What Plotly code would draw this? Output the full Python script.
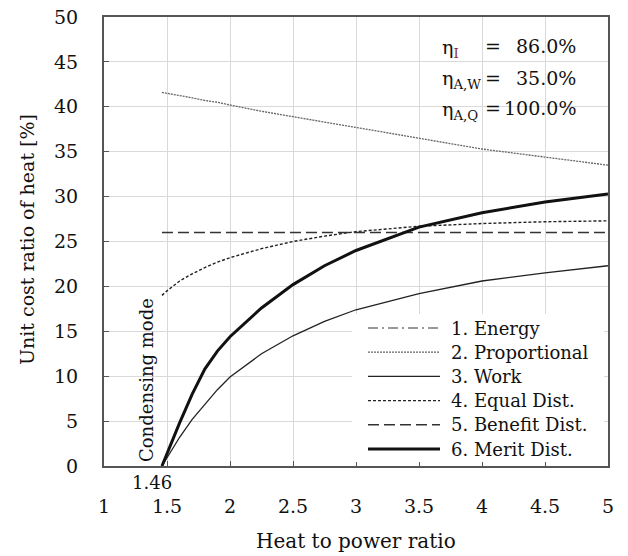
import plotly.graph_objects as go

# ---------------- data ----------------
x_vals = [1.46, 1.5, 1.6, 1.7, 1.8, 1.9, 2.0, 2.25, 2.5, 2.75, 3.0, 3.5, 4.0, 4.5, 5.0]
energy = [100.0] * len(x_vals)  # lies above the plotted range
proportional = [41.6, 41.5, 41.3, 41.0, 40.7, 40.5, 40.2, 39.5, 38.9, 38.3, 37.7, 36.5, 35.3, 34.4, 33.5]
work = [0.0, 0.9, 3.2, 5.2, 6.9, 8.5, 9.9, 12.5, 14.5, 16.1, 17.4, 19.2, 20.6, 21.5, 22.3]
equal_dist = [19.0, 19.5, 20.6, 21.4, 22.1, 22.7, 23.2, 24.2, 25.0, 25.6, 26.1, 26.7, 27.0, 27.2, 27.3]
benefit_dist = [26.0] * len(x_vals)
merit_dist = [0.0, 1.4, 4.8, 8.0, 10.8, 12.8, 14.4, 17.6, 20.2, 22.3, 24.0, 26.6, 28.2, 29.4, 30.3]

series_names = ["1. Energy", "2. Proportional", "3. Work", "4. Equal Dist.", "5. Benefit Dist.", "6. Merit Dist."]
series_values = [energy, proportional, work, equal_dist, benefit_dist, merit_dist]

x_ticks = [1, 1.5, 2, 2.5, 3, 3.5, 4, 4.5, 5]
x_tick_text = ["1", "1.5", "2", "2.5", "3", "3.5", "4", "4.5", "5"]
y_ticks = [0, 5, 10, 15, 20, 25, 30, 35, 40, 45, 50]

eta_labels = ["η<sub><span style='color:#8b2e2e'>I</span></sub>", "η<sub>A,W</sub>", "η<sub>A,Q</sub>"]
eta_values = ["86.0%", "35.0%", "100.0%"]
split_label = "1.46"

# ---------------- styles ----------------
styles = [
    dict(color="#333333", width=1.2, dash="10px,4px,2px,4px"),
    dict(color="#666666", width=1.3, dash="2px,1px"),
    dict(color="#222222", width=1.3, dash="solid"),
    dict(color="#222222", width=1.4, dash="3px,2px"),
    dict(color="#333333", width=1.6, dash="11px,5px"),
    dict(color="#111111", width=3.0, dash="solid"),
]

FONT = "DejaVu Serif"
W, H = 628, 556
L, R, T, B = 104, 20, 17, 90
PW, PH = W - L - R, H - T - B


def px(xw):
    return (xw - L) / PW


def py(yw):
    return (H - B - yw) / PH


fig = go.Figure()
for name, vals, st in zip(series_names, series_values, styles):
    fig.add_trace(go.Scatter(x=x_vals, y=vals, mode="lines", name=name,
                             line=dict(color=st["color"], width=st["width"], dash=st["dash"]),
                             showlegend=False, hoverinfo="skip"))

shapes = []
annotations = []

# manual legend (white box with line samples)
shapes.append(dict(type="rect", xref="paper", yref="paper",
                   x0=px(352), x1=px(604), y0=py(462), y1=py(314),
                   fillcolor="white", line=dict(width=0), layer="above"))
row0, row_step = 328, 24.2
for i, (name, st) in enumerate(zip(series_names, styles)):
    yy = py(row0 + i * row_step)
    shapes.append(dict(type="line", xref="paper", yref="paper",
                       x0=px(368), x1=px(440), y0=yy, y1=yy, layer="above",
                       line=dict(color=st["color"], width=st["width"], dash=st["dash"])))
    annotations.append(dict(xref="paper", yref="paper", x=px(449), y=yy,
                            text=name, showarrow=False, xanchor="left", yanchor="middle",
                            font=dict(family=FONT, size=18, color="#111")))

# efficiency annotations
eta_rows = [48, 80, 110]
for lab, val, yr in zip(eta_labels, eta_values, eta_rows):
    annotations.append(dict(xref="paper", yref="paper", x=px(440), y=py(yr), text=lab,
                            showarrow=False, xanchor="left", yanchor="middle",
                            font=dict(family=FONT, size=19, color="#111")))
    annotations.append(dict(xref="paper", yref="paper", x=px(493), y=py(yr - 2), text="=",
                            showarrow=False, xanchor="center", yanchor="middle",
                            font=dict(family=FONT, size=19, color="#111")))
    annotations.append(dict(xref="paper", yref="paper", x=px(578), y=py(yr - 2), text=val,
                            showarrow=False, xanchor="right", yanchor="middle",
                            font=dict(family=FONT, size=19, color="#111")))

# condensing mode label
annotations.append(dict(xref="paper", yref="paper", x=px(146), y=py(380), text="Condensing mode",
                        textangle=-90, showarrow=False, xanchor="center", yanchor="middle",
                        font=dict(family=FONT, size=18, color="#111")))
# 1.46 label
annotations.append(dict(xref="x", yref="paper", x=x_vals[0], xshift=-10, y=py(482), text=split_label,
                        showarrow=False, xanchor="center", yanchor="middle",
                        font=dict(family=FONT, size=18, color="#111")))
# axis titles
annotations.append(dict(xref="paper", yref="paper", x=0.5, y=py(541), text="Heat to power ratio",
                        showarrow=False, xanchor="center", yanchor="middle",
                        font=dict(family=FONT, size=20, color="#111")))
annotations.append(dict(xref="paper", yref="paper", x=px(27), y=py(240), text="Unit cost ratio of heat [%]",
                        textangle=-90, showarrow=False, xanchor="center", yanchor="middle",
                        font=dict(family=FONT, size=19, color="#111")))

fig.update_layout(
    width=W, height=H,
    margin=dict(l=L, r=R, t=T, b=B),
    paper_bgcolor="white", plot_bgcolor="white",
    font=dict(family=FONT, size=19, color="#111"),
    shapes=shapes, annotations=annotations,
    showlegend=False,
)
fig.update_xaxes(range=[1, 5], tickvals=x_ticks, ticktext=x_tick_text,
                 tickfont=dict(family=FONT, size=19),
                 showgrid=True, gridcolor="#d9d9d9", gridwidth=1,
                 showline=True, linecolor="#555", linewidth=2, mirror=True,
                 ticks="inside", ticklen=5, tickcolor="#555", tickwidth=1,
                 ticklabelstandoff=22, zeroline=False, automargin=False)
fig.update_yaxes(range=[0, 50], tickvals=y_ticks,
                 tickfont=dict(family=FONT, size=19),
                 showgrid=True, gridcolor="#d9d9d9", gridwidth=1,
                 showline=True, linecolor="#555", linewidth=2, mirror=True,
                 ticks="inside", ticklen=5, tickcolor="#555", tickwidth=1,
                 ticklabelstandoff=20, zeroline=False, automargin=False)

fig.write_html("out.html", config={"displayModeBar": False},
               post_script="document.body.style.margin='0px';")
